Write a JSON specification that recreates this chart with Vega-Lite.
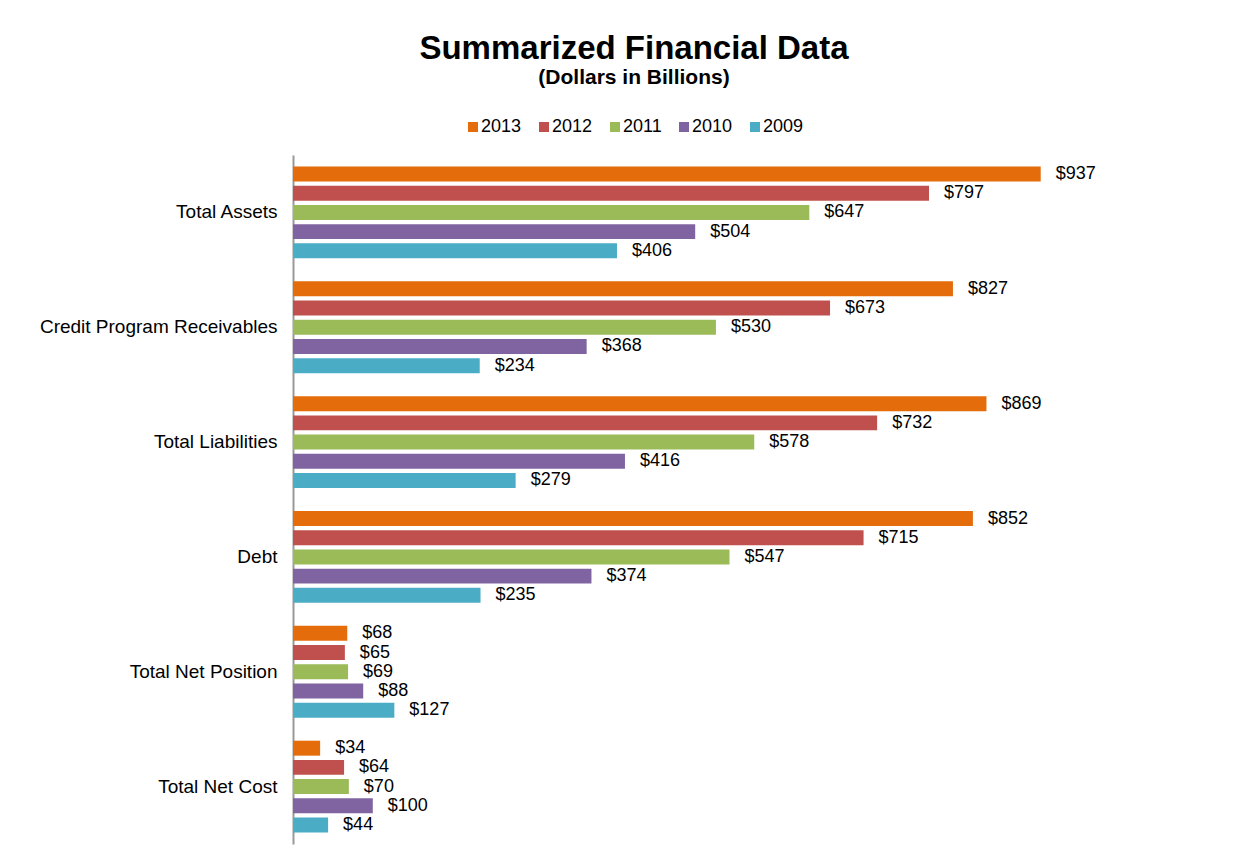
{
  "$schema": "https://vega.github.io/schema/vega-lite/v6.json",
  "autosize": "none",
  "width": 798,
  "height": 689,
  "padding": {"left": 293, "top": 155, "right": 152, "bottom": 14},
  "background": "white",
  "config": {
    "font": "Liberation Sans",
    "view": {"stroke": null}
  },
  "title": {
    "text": "Summarized Financial Data",
    "subtitle": "(Dollars in Billions)",
    "fontSize": 33,
    "fontWeight": "bold",
    "subtitleFontSize": 21,
    "subtitleFontWeight": "bold",
    "subtitleColor": "black",
    "color": "black",
    "anchor": "middle",
    "dx": -58,
    "offset": 30,
    "subtitlePadding": 1
  },
  "data": {
    "values": [
      {"category": "Total Assets", "year": "2013", "value": 937},
      {"category": "Total Assets", "year": "2012", "value": 797},
      {"category": "Total Assets", "year": "2011", "value": 647},
      {"category": "Total Assets", "year": "2010", "value": 504},
      {"category": "Total Assets", "year": "2009", "value": 406},
      {"category": "Credit Program Receivables", "year": "2013", "value": 827},
      {"category": "Credit Program Receivables", "year": "2012", "value": 673},
      {"category": "Credit Program Receivables", "year": "2011", "value": 530},
      {"category": "Credit Program Receivables", "year": "2010", "value": 368},
      {"category": "Credit Program Receivables", "year": "2009", "value": 234},
      {"category": "Total Liabilities", "year": "2013", "value": 869},
      {"category": "Total Liabilities", "year": "2012", "value": 732},
      {"category": "Total Liabilities", "year": "2011", "value": 578},
      {"category": "Total Liabilities", "year": "2010", "value": 416},
      {"category": "Total Liabilities", "year": "2009", "value": 279},
      {"category": "Debt", "year": "2013", "value": 852},
      {"category": "Debt", "year": "2012", "value": 715},
      {"category": "Debt", "year": "2011", "value": 547},
      {"category": "Debt", "year": "2010", "value": 374},
      {"category": "Debt", "year": "2009", "value": 235},
      {"category": "Total Net Position", "year": "2013", "value": 68},
      {"category": "Total Net Position", "year": "2012", "value": 65},
      {"category": "Total Net Position", "year": "2011", "value": 69},
      {"category": "Total Net Position", "year": "2010", "value": 88},
      {"category": "Total Net Position", "year": "2009", "value": 127},
      {"category": "Total Net Cost", "year": "2013", "value": 34},
      {"category": "Total Net Cost", "year": "2012", "value": 64},
      {"category": "Total Net Cost", "year": "2011", "value": 70},
      {"category": "Total Net Cost", "year": "2010", "value": 100},
      {"category": "Total Net Cost", "year": "2009", "value": 44}
    ]
  },
  "encoding": {
    "y": {
      "field": "category",
      "type": "nominal",
      "sort": null,
      "title": null,
      "scale": {"paddingInner": 0.164, "paddingOuter": 0.082},
      "axis": {
        "domainColor": "#999999",
        "domainWidth": 2,
        "ticks": false,
        "labelFontSize": 19,
        "labelColor": "black",
        "labelPadding": 16,
        "labelLimit": 400
      }
    },
    "yOffset": {
      "field": "year",
      "type": "nominal",
      "sort": ["2013", "2012", "2011", "2010", "2009"],
      "scale": {"paddingInner": 0.22, "paddingOuter": 0.11}
    },
    "x": {
      "field": "value",
      "type": "quantitative",
      "scale": {"domain": [0, 1000]},
      "axis": null
    }
  },
  "layer": [
    {
      "mark": {"type": "bar"},
      "encoding": {
        "color": {
          "field": "year",
          "type": "nominal",
          "scale": {
            "domain": ["2013", "2012", "2011", "2010", "2009"],
            "range": ["#E46C0A", "#C0504D", "#9BBB59", "#8064A2", "#4BACC6"]
          },
          "legend": {
            "title": null,
            "orient": "none",
            "direction": "horizontal",
            "legendX": 171,
            "legendY": -37,
            "symbolType": "square",
            "symbolSize": 100,
            "symbolStrokeWidth": 0,
            "labelFontSize": 18,
            "labelColor": "black",
            "labelOffset": -1,
            "columnPadding": 13
          }
        }
      }
    },
    {
      "mark": {"type": "text", "align": "left", "baseline": "middle", "dx": 15, "fontSize": 18, "color": "black"},
      "encoding": {
        "text": {"field": "value", "type": "quantitative", "format": "$,.0f"}
      }
    }
  ]
}
